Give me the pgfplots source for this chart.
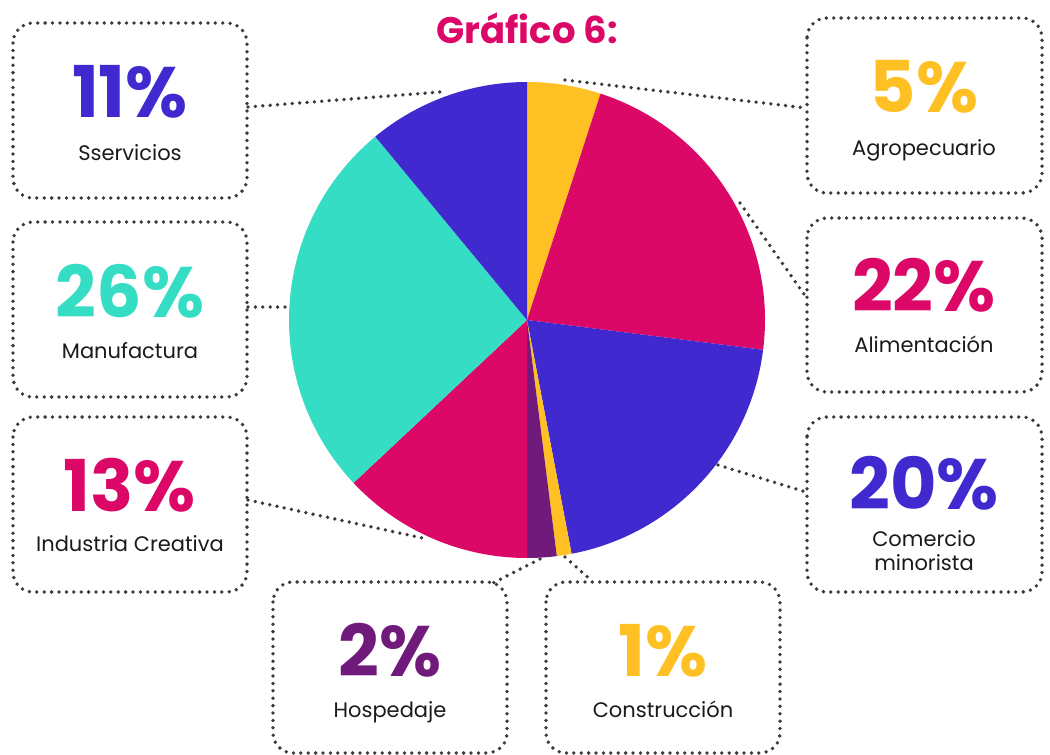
\documentclass[border=0pt]{standalone}
\usepackage{pgfplots}
\usepackage{pgfplotstable}
\pgfplotsset{compat=1.18}
\usepackage{fontspec}
\setmainfont{Poppins}
\definecolor{cYellow}{HTML}{FFC024}
\definecolor{cMagenta}{HTML}{DC0868}
\definecolor{cBlue}{HTML}{4129D0}
\definecolor{cTeal}{HTML}{35DDC5}
\definecolor{cPurple}{HTML}{701A7B}
\definecolor{cDots}{HTML}{3A3A3A}
\definecolor{cText}{HTML}{1A1A1A}

\pgfplotstableread{
value color
5 cYellow
22 cMagenta
20 cBlue
1 cYellow
2 cPurple
13 cMagenta
26 cTeal
11 cBlue
}\piedata

\tikzset{
  dots/.style={cDots, line width=1.9pt, dash pattern=on 0pt off 3.7pt, line cap=round},
  box/.style={dots, rounded corners=10pt},
  pct/.style={anchor=base, font=\fontsize{35.7}{36}\selectfont\bfseries},
  lab/.style={anchor=base, text=cText, font=\fontsize{10.5}{12}\selectfont},
}

\begin{document}
\begin{tikzpicture}
\begin{axis}[
  at={(0,0)}, anchor=south west,
  x=0.5pt, y=0.5pt,
  xmin=0, xmax=1050, ymin=0, ymax=755,
  y dir=reverse,
  hide axis, clip=false,
]
\path (axis cs:0,0) rectangle (axis cs:1050,755);

% pie slices
\def\cum{0}
\pgfplotsforeachungrouped \i in {0,...,7}{%
  \pgfplotstablegetelem{\i}{value}\of\piedata \let\sv\pgfplotsretval
  \pgfplotstablegetelem{\i}{color}\of\piedata \let\sc\pgfplotsretval
  \pgfmathsetmacro\sa{90-3.6*\cum}%
  \pgfmathsetmacro\cum{\cum+\sv}%
  \pgfmathsetmacro\sb{90-3.6*\cum}%
  \edef\temp{\noexpand\fill[\sc] (axis cs:527,320) -- ++(\sa:119pt) arc[start angle=\sa, end angle=\sb, radius=119pt] -- cycle;}%
  \temp
}

% title
\node[anchor=base, text=cMagenta, font=\fontsize{18.5}{20}\selectfont\bfseries] at (axis cs:527,43) {Gráfico 6:};

% boxes
\draw[box] (axis cs:13,23) rectangle (axis cs:247,198);
\draw[box] (axis cs:13,222) rectangle (axis cs:247,397);
\draw[box] (axis cs:13,417) rectangle (axis cs:247,592);
\draw[box] (axis cs:273,582) rectangle (axis cs:507,753);
\draw[box] (axis cs:546,582) rectangle (axis cs:780,753);
\draw[box] (axis cs:807,18) rectangle (axis cs:1042,193);
\draw[box] (axis cs:807,218) rectangle (axis cs:1042,392);
\draw[box] (axis cs:807,417) rectangle (axis cs:1042,592);

% leader lines
\draw[dots] (axis cs:248,107) -- (axis cs:440,92);
\draw[dots] (axis cs:248,307) -- (axis cs:289,307);
\draw[dots] (axis cs:248,500) -- (axis cs:427,539);
\draw[dots] (axis cs:540,559) -- (axis cs:493,583);
\draw[dots] (axis cs:565,557) -- (axis cs:592,581);
\draw[dots] (axis cs:565,80) -- (axis cs:806,108);
\draw[dots] (axis cs:740,203) -- (axis cs:806,297);
\draw[dots] (axis cs:718,465) -- (axis cs:806,492);

% texts
\node[pct, text=cBlue] at (axis cs:130,117) {11\%};
\node[lab] at (axis cs:130,160) {Sservicios};
\node[pct, text=cTeal] at (axis cs:130,317) {26\%};
\node[lab] at (axis cs:130,358) {Manufactura};
\node[pct, text=cMagenta] at (axis cs:130,511) {13\%};
\node[lab] at (axis cs:130,551) {Industria Creativa};
\node[pct, text=cPurple] at (axis cs:390,676) {2\%};
\node[lab] at (axis cs:390,717) {Hospedaje};
\node[pct, text=cYellow] at (axis cs:663,676) {1\%};
\node[lab] at (axis cs:663,717) {Construcción};
\node[pct, text=cYellow] at (axis cs:924,112) {5\%};
\node[lab] at (axis cs:924,155) {Agropecuario};
\node[pct, text=cMagenta] at (axis cs:924,311) {22\%};
\node[lab] at (axis cs:924,352) {Alimentación};
\node[pct, text=cBlue] at (axis cs:924,509) {20\%};
\node[lab] at (axis cs:924,546) {Comercio};
\node[lab] at (axis cs:924,570) {minorista};
\end{axis}
\end{tikzpicture}
\end{document}
